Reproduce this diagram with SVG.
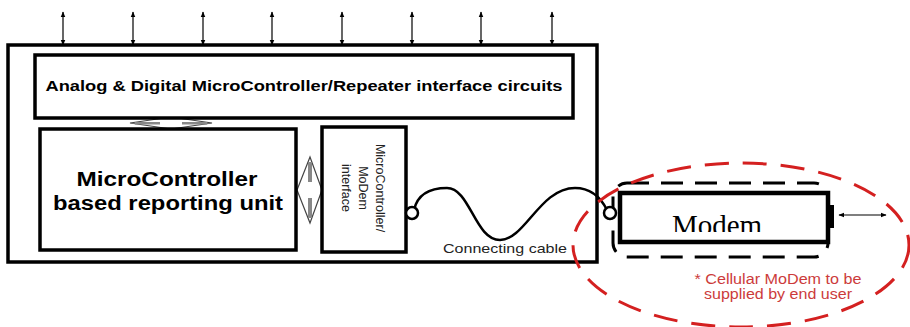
<svg xmlns="http://www.w3.org/2000/svg" width="910" height="327" viewBox="0 0 910 327">
<defs>
<marker id="ah" viewBox="0 0 10 10" refX="9" refY="5" markerWidth="6" markerHeight="6" orient="auto-start-reverse" markerUnits="userSpaceOnUse">
<path d="M0,1 L10,5 L0,9 z" fill="#000"/>
</marker>
<clipPath id="mclip"><rect x="620" y="193" width="208" height="39"/></clipPath>
<style>
.box{fill:#fff;stroke:#000;stroke-width:3.5}
.io{stroke:#000;stroke-width:1.2;fill:none;marker-start:url(#ah);marker-end:url(#ah)}
.sans{font-family:"Liberation Sans",Arial,sans-serif}
.b{font-weight:bold}
.dia{fill:#fff;stroke:#444;stroke-width:1.2}
.bar{fill:#888}
</style>
</defs>
<rect width="910" height="327" fill="#fff"/>
<g id="outer"><rect class="box" x="8" y="45" width="589" height="217" stroke-width="3"/></g>
<g id="connectors">
<line class="io" x1="63" y1="12" x2="63" y2="45"/>
<line class="io" x1="133" y1="12" x2="133" y2="45"/>
<line class="io" x1="203" y1="12" x2="203" y2="45"/>
<line class="io" x1="272" y1="12" x2="272" y2="45"/>
<line class="io" x1="342" y1="12" x2="342" y2="45"/>
<line class="io" x1="412" y1="12" x2="412" y2="45"/>
<line class="io" x1="481" y1="12" x2="481" y2="45"/>
<line class="io" x1="552" y1="12" x2="552" y2="45"/>
<polygon class="dia" points="130,123 171,117 212,123 171,129"/>
<rect class="bar" x="135" y="122" width="25" height="2.5"/>
<rect class="bar" x="182" y="122" width="25" height="2.5"/>
<polygon class="dia" points="310,157 322,190 310,223 297,190"/>
<rect class="bar" x="308" y="162" width="4" height="20"/>
<rect class="bar" x="308" y="198" width="4" height="20"/>
<path d="M414,210 C418,192 432,188 447,188 C470,188 475,240 500,240 C525,240 540,188 575,188 C592,188 602,200 607,210" fill="none" stroke="#000" stroke-width="2.5"/>
<line class="io" x1="839" y1="215" x2="886" y2="215" stroke-width="1"/>
</g>
<g id="interface-circuits">
<rect class="box" x="35" y="55" width="538" height="63"/>
<text class="sans b" x="304" y="91" font-size="14.5" text-anchor="middle" textLength="517" lengthAdjust="spacingAndGlyphs">Analog &amp; Digital MicroController/Repeater interface circuits</text>
</g>
<g id="reporting-unit">
<rect class="box" x="40" y="129" width="256" height="121"/>
<text class="sans b" x="167" y="186" font-size="20" text-anchor="middle" textLength="181" lengthAdjust="spacingAndGlyphs">MicroController</text>
<text class="sans b" x="168" y="210" font-size="20" text-anchor="middle" textLength="230" lengthAdjust="spacingAndGlyphs">based reporting unit</text>
</g>
<g id="modem-interface">
<rect class="box" x="322" y="127" width="84" height="125" stroke-width="3"/>
<g transform="translate(376,188) rotate(90)" class="sans" font-size="12.5" text-anchor="middle" fill="#222">
<text x="0" y="0">MicroController/</text>
<text x="0" y="17">MoDem</text>
<text x="0" y="34">interface</text>
</g>
<circle cx="412" cy="213" r="6" fill="#fff" stroke="#000" stroke-width="2.5"/>
</g>
<g id="cable-label">
<text class="sans" x="443" y="253" font-size="13.5" textLength="124" lengthAdjust="spacingAndGlyphs" fill="#222">Connecting cable</text>
</g>
<g id="modem">
<rect x="613" y="183" width="215" height="74" rx="14" fill="none" stroke="#000" stroke-width="3" stroke-dasharray="22 12"/>
<circle cx="610" cy="213" r="6" fill="#fff" stroke="#000" stroke-width="2.5"/>
<rect x="620" y="193" width="208" height="49" fill="#fff" stroke="#000" stroke-width="4.5"/>
<text x="717" y="235" font-family="'Liberation Serif','Times New Roman',serif" font-size="29" text-anchor="middle" clip-path="url(#mclip)">Modem</text>
<rect x="830" y="205" width="4" height="23" fill="#000"/>
</g>
<g id="user-supplied">
<ellipse cx="741" cy="245" rx="168" ry="82" fill="none" stroke="#d42020" stroke-width="3" stroke-dasharray="24 14"/>
<text class="sans" x="778" y="284" font-size="14" text-anchor="middle" fill="#cc3b3b" textLength="167" lengthAdjust="spacingAndGlyphs">* Cellular MoDem to be</text>
<text class="sans" x="778" y="299" font-size="14" text-anchor="middle" fill="#cc3b3b" textLength="148" lengthAdjust="spacingAndGlyphs">supplied by end user</text>
</g>
</svg>
